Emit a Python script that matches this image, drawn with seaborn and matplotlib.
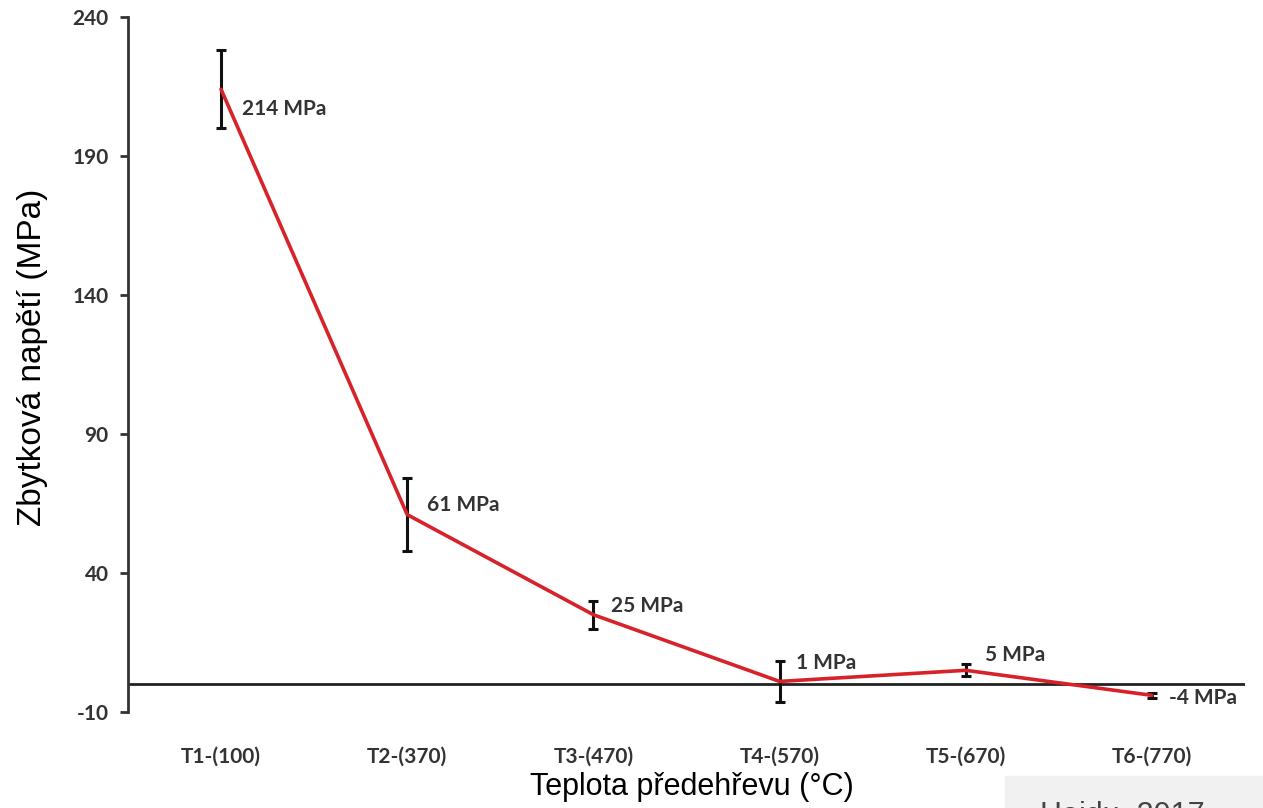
import matplotlib
matplotlib.use("Agg")
import matplotlib.pyplot as plt
from matplotlib.patches import Rectangle
import seaborn as sns
import pandas as pd

# data
categories = ["T1-(100)", "T2-(370)", "T3-(470)", "T4-(570)", "T5-(670)", "T6-(770)"]
stress = [214, 61, 25, 1, 5, -4]
stress_err = [14, 13, 5, 7.5, 2.2, 1]
labels = ["214 MPa", "61 MPa", "25 MPa", "1 MPa", "5 MPa", "-4 MPa"]
y_ticks = [-10, 40, 90, 140, 190, 240]

df = pd.DataFrame({"teplota": categories, "napeti": stress})

sns.set_theme(style="ticks")
plt.rcParams["font.family"] = ["Liberation Sans", "DejaVu Sans"]
plt.rcParams["axes.unicode_minus"] = False

fig = plt.figure(figsize=(12.63, 8.08), dpi=100)
ax = fig.add_axes([0.1013, 0.1188, 0.8844, 0.8602])

# error bars under the line
ax.errorbar(categories, stress, yerr=stress_err, fmt="none", ecolor="#111111",
            elinewidth=2.2, capsize=3.5, capthick=2.2, zorder=2)
# the red line
sns.lineplot(data=df, x="teplota", y="napeti", color="#d8222a", linewidth=2.6,
             sort=False, ax=ax, zorder=3)

# zero line
ax.axhline(0, color="#222222", lw=2, zorder=1)

# value labels
offsets = [(15, -14), (14, 7), (13, 6), (12, 13), (14, 11), (12, -2)]
for i, (lab, off) in enumerate(zip(labels, offsets)):
    ax.annotate(lab, xy=(i, stress[i]), xytext=off, textcoords="offset points",
                ha="left", va="center", fontsize=15, fontweight="bold",
                color="#333333", family=["Lato", "DejaVu Sans"])

ax.set_xlim(-0.5, 5.5)
ax.set_ylim(-10, 240)
ax.set_yticks(y_ticks)

sns.despine(ax=ax, bottom=True)
ax.spines["left"].set_color("#333333")
ax.spines["left"].set_linewidth(2)
ax.tick_params(axis="y", length=6, width=2, color="#333333", pad=8)
ax.tick_params(axis="x", length=0, pad=25)
for t in ax.get_xticklabels() + ax.get_yticklabels():
    t.set_family(["Lato", "DejaVu Sans"])
    t.set_fontweight("bold")
    t.set_fontsize(15)
    t.set_color("#333333")

ax.set_xlabel("Teplota předehřevu (°C)", fontsize=22, color="black")
ax.set_ylabel("Zbytková napětí (MPa)", fontsize=24, color="black")
ax.xaxis.set_label_coords((692 - 128) / 1117, -0.086)
ax.yaxis.set_label_coords(-0.072, (712 - 357) / 695)

# source box in the bottom right corner
fig.patches.append(Rectangle((1005 / 1263, 0), 258 / 1263, 32 / 808,
                             transform=fig.transFigure, color="#f1f1f1", zorder=0))
fig.text(1040 / 1263, 1 - 801 / 808, "Hajdu, 2017", fontsize=22, color="#444444",
         ha="left", va="top")

fig.savefig("out.png", dpi=100)
